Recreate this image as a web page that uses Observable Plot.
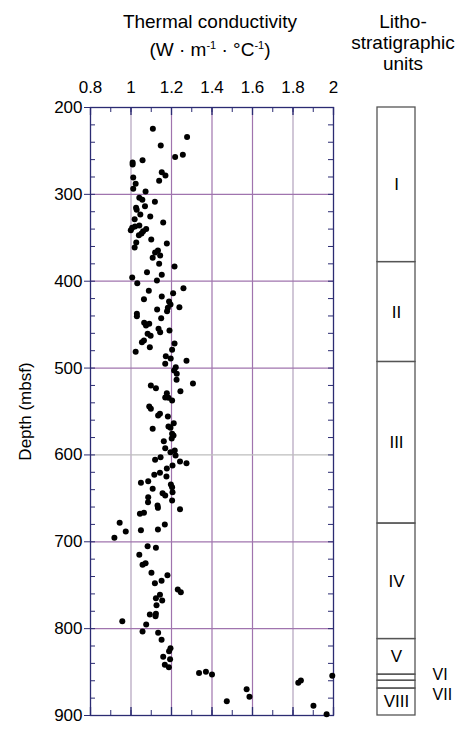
<!DOCTYPE html>
<html>
<head>
<meta charset="utf-8">
<script src="https://cdn.jsdelivr.net/npm/d3@7"></script>
<script src="https://cdn.jsdelivr.net/npm/@observablehq/plot@0.6"></script>
<style>
  html, body { margin: 0; padding: 0; background: white; }
  #wrap { position: relative; width: 464px; height: 731px; font-family: "Liberation Sans", Arial, Helvetica, sans-serif; color: black; }
  #wrap svg { position: absolute; left: 0; top: 0; }
  .lbl { position: absolute; text-align: center; white-space: nowrap; font-size: 19px; line-height: 21px; }
  sup { font-size: 11px; vertical-align: 7px; line-height: 0; }
</style>
</head>
<body>
<div id="wrap">
  <div class="lbl" style="left:110px; width:200px; top:11px;">Thermal conductivity</div>
  <div class="lbl" style="left:110px; width:200px; top:39px;">(W · m<sup>-1</sup> · °C<sup>-1</sup>)</div>
  <div class="lbl" style="left:343px; width:120px; top:11px;">Litho-<br>stratigraphic<br>units</div>
</div>
<script>
// Thermal conductivity (W/m/°C) and depth (mbsf)
const conductivity = [
  1.108,1.277,1.147,1.057,1.218,1.256,1.008,1.008,1.152,1.170,1.139,1.011,1.023,1.011,1.072,
  1.041,1.056,1.118,1.069,1.025,1.028,1.046,1.095,1.018,1.159,1.041,1.020,0.999,1.006,1.075,
  1.060,1.052,1.039,1.100,1.026,1.018,1.177,1.119,1.133,1.144,1.107,1.139,1.215,1.079,1.152,
  1.006,1.031,1.128,1.088,1.152,1.208,1.259,1.064,
  1.188,1.195,1.182,1.178,1.239,1.129,1.029,1.029,1.149,1.065,1.090,1.074,1.136,1.144,1.190,
  1.082,1.097,1.064,1.054,1.093,1.215,1.203,1.023,1.172,1.196,1.169,1.274,1.221,1.213,1.226,
  1.225,1.306,1.098,1.123,1.244,1.177,1.169,1.185,1.203,1.090,1.098,1.143,1.134,1.182,1.211,
  1.185,1.107,1.195,1.203,1.210,1.162,1.201,1.169,1.216,1.195,1.220,1.146,1.119,1.242,1.274,
  1.205,1.177,1.143,1.115,1.175,1.049,1.085,1.197,1.203,1.107,1.156,1.169,1.085,1.205,
  1.084,1.131,1.133,1.203,1.242,1.044,1.064,0.944,1.167,0.974,1.049,1.133,0.918,1.082,1.123,
  1.041,1.057,1.072,1.101,1.180,1.151,1.118,1.231,1.246,1.143,1.123,1.154,1.126,1.093,1.121,
  1.123,0.957,1.075,1.057,1.134,1.151,1.195,1.188,1.159,1.193,1.167,1.187,1.336,1.370,1.400,
  1.473,1.571,1.585,1.826,1.839,1.901,1.966,1.994
];
const depth = [
  224.5,234,243.7,260.6,257,254.5,263.3,265.6,274.5,278.3,284.4,280.6,287.9,293.6,296.7,
  304,306.3,308.6,313.6,315.5,317.8,323.2,325.5,328.6,332.4,335.9,337,341.2,338.5,340,
  342.4,345,347,352,355.4,361.2,356.6,367,364.6,370.4,373,380,383,389.6,392.6,
  395.7,402.2,399.2,411,417.6,414,408,420.7,
  423.4,426.8,430.6,434.5,429.9,432.6,437.5,440.3,442.6,447.9,449,451,454.8,458.7,456.7,
  460.5,462.9,468.3,470.2,476,471.7,479,481.3,486.3,489,495.1,491.6,499,502.8,506.6,
  513.5,517.8,520,523.2,526.6,528.9,533.9,534.2,537.3,544.2,546.9,552.7,554.6,555.7,563.5,
  567.3,569.9,568.8,575.7,577.6,584.2,581,592.2,594.9,596.8,600.6,602.6,605.6,607.6,609.5,
  612.2,615.6,620.6,622.9,624.8,632,630.2,634,637.1,639,644,646.7,648.6,642.9,
  654.4,658.2,660.9,652.4,662.4,667.8,666.6,678.1,680,688.1,686.6,685.8,695.4,705,706.9,
  715,726.5,724.6,735.7,738.4,744.9,747.6,754.9,758,761,764.9,767.6,773,783.7,785.6,
  782.9,791.4,795.2,803.3,804.8,812.9,822.5,826,832.4,835.2,841.6,844.4,851.2,849.7,852.8,
  883.5,869.7,878.5,862.4,859.7,888.8,898.5,854.3
];

// Axis ticks
const xTicks = [0.8, 1.0, 1.2, 1.4, 1.6, 1.8, 2.0];
const yTicks = [200, 300, 400, 500, 600, 700, 800, 900];

// Lithostratigraphic units: top/bottom depths (mbsf) and names
const unitNames = ["I", "II", "III", "IV", "V", "VI", "VII", "VIII"];
const unitTops = [200, 378, 493, 679, 812, 853, 860, 869];
const unitBottoms = [378, 493, 679, 812, 853, 860, 869, 900];

const points = conductivity.map((c, i) => ({c, d: depth[i]}));
const units = unitNames.map((name, i) => ({name, top: unitTops[i], bottom: unitBottoms[i], mid: (unitTops[i] + unitBottoms[i]) / 2}));

const W = 464, H = 731, mL = 90, mR = 131, mT = 107, mB = 16;
const frameW = W - mL - mR, frameH = H - mT - mB;
const navy = "#2b2b72", purple = "#a074ae", grey = "#bdbdbd", lightPurple = "#b3a2bd";
const font = "'Liberation Sans', Arial, Helvetica, sans-serif";

const minorX = d3.range(8, 21).map(d => d / 10);
const minorY = d3.range(200, 901, 20);
const gridX = xTicks.slice(1, -1);
const gridY = yTicks.slice(1, -1);
const gridXColor = v => (Math.abs(v - 1.0) < 1e-6 || Math.abs(v - 1.8) < 1e-6) ? lightPurple : purple;
const gridYColor = v => v === 600 ? grey : purple;

const main = Plot.plot({
  width: W, height: H,
  marginLeft: mL, marginRight: mR, marginTop: mT, marginBottom: mB,
  style: {fontFamily: font, fontSize: "17px", color: "black", background: "transparent"},
  x: {domain: [0.8, 2.0]},
  y: {domain: [200, 900], reverse: true},
  marks: [
    Plot.ruleX(gridX, {x: d => d, stroke: gridXColor, strokeWidth: 1.2}),
    Plot.ruleY(gridY, {y: d => d, stroke: gridYColor, strokeWidth: 1.2}),
    // minor ticks inside the frame
    Plot.ruleX(minorX, {x: d => d, insetBottom: frameH - 5, stroke: navy}),
    Plot.ruleX(minorX, {x: d => d, insetTop: frameH - 5, stroke: navy}),
    Plot.ruleX(xTicks, {x: d => d, insetBottom: frameH - 8, stroke: navy, strokeWidth: 1.3}),
    Plot.ruleX(xTicks, {x: d => d, insetTop: frameH - 8, stroke: navy, strokeWidth: 1.3}),
    Plot.ruleY(minorY, {y: d => d, insetRight: frameW - 5, stroke: navy}),
    Plot.ruleY(minorY, {y: d => d, insetLeft: frameW - 5, stroke: navy}),
    Plot.frame({stroke: navy, strokeWidth: 1.3}),
    Plot.axisX({anchor: "top", ticks: xTicks, tickSize: 0, tickPadding: 15, tickFormat: d => String(+d.toFixed(1)), label: null, fontSize: 17}),
    Plot.axisY({anchor: "left", ticks: yTicks, tickSize: 6, tickPadding: 2, stroke: navy, tickFormat: d => String(d),
      label: "Depth (mbsf)", labelAnchor: "center", labelOffset: 72, labelArrow: "none", fontSize: 17}),
    Plot.dot(points, {x: "c", y: "d", r: 3, fill: "black", stroke: "none"})
  ]
});

const inside = units.filter(u => u.name !== "VI" && u.name !== "VII");

const litho = Plot.plot({
  width: W, height: H,
  marginLeft: 377, marginRight: 49, marginTop: mT, marginBottom: mB,
  style: {fontFamily: font, fontSize: "17px", color: "black", background: "transparent"},
  x: {domain: [0, 1], axis: null},
  y: {domain: [200, 900], reverse: true, axis: null},
  marks: [
    Plot.rect(units, {x1: 0, x2: 1, y1: "top", y2: "bottom", fill: "none", stroke: "#555", strokeWidth: 1.3}),
    Plot.text(inside, {x: 0.5, y: "mid", text: "name", fontSize: 17, lineAnchor: "middle", fill: "black"}),
    Plot.text(units.filter(u => u.name === "VI"), {x: 1.45, y: "mid", text: "name", dy: -3, fontSize: 16, textAnchor: "start", lineAnchor: "middle", fill: "black"}),
    Plot.text(units.filter(u => u.name === "VII"), {x: 1.45, y: "mid", text: "name", dy: 10, fontSize: 16, textAnchor: "start", lineAnchor: "middle", fill: "black"})
  ]
});

const wrap = document.getElementById("wrap");
wrap.appendChild(main);
wrap.appendChild(litho);
</script>
</body>
</html>
